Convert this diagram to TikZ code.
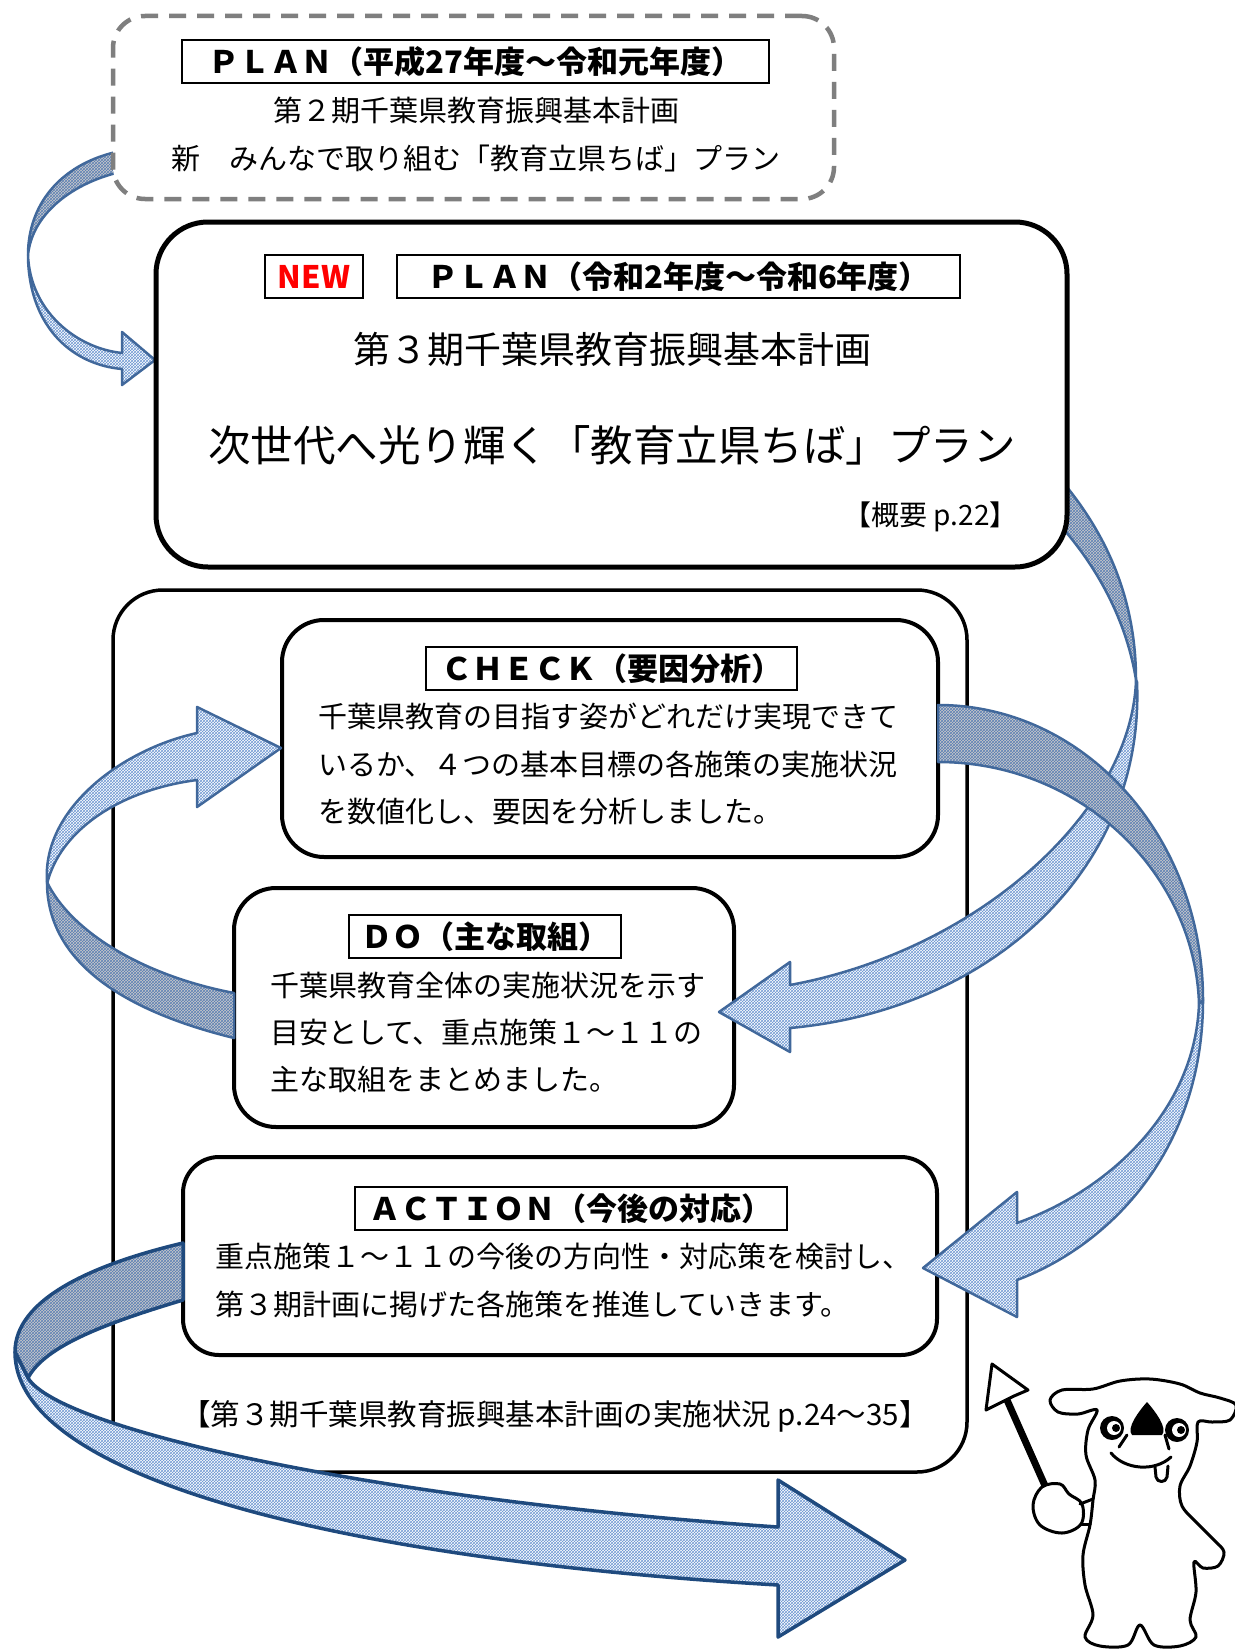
\documentclass[tikz,border=0pt]{standalone}
\usepackage{fontspec}
\setmainfont{Noto Sans CJK JP}
\usetikzlibrary{patterns}

\definecolor{dashgray}{HTML}{7F7F7F}
\definecolor{ribbonline}{HTML}{41689B}
\definecolor{ribbonnavy}{HTML}{1F4A7E}
\definecolor{hatchblue}{HTML}{6F98D2}
\definecolor{hatchdeep}{HTML}{5A7FB5}
\definecolor{backgray}{HTML}{C9C9C9}
\definecolor{newred}{HTML}{FF0000}

\begin{document}
\begin{tikzpicture}[x=1pt,y=-1pt,
  panel/.style={draw=black, fill=white, line width=4pt, rounded corners=40pt, inner sep=0pt},
  titlebox/.style={draw=black, fill=white, line width=2.5pt, inner sep=0pt, minimum height=43pt,
                   font=\fontsize{31}{31}\selectfont\bfseries},
  body/.style={inner sep=0pt, anchor=west, font=\fontsize{29}{29}\selectfont},
  ctext/.style={inner sep=0pt, font=\fontsize{29}{29}\selectfont},
  front/.style={draw=ribbonline, line width=2.5pt, line join=round,
                preaction={fill=white}, pattern=crosshatch, pattern color=hatchblue},
  back/.style={draw=ribbonline, line width=2.5pt, line join=round,
               preaction={fill=backgray}, pattern=crosshatch, pattern color=hatchdeep},
]
\useasboundingbox (0,0) rectangle (1234,1651);
\fill[white] (0,0) rectangle (1234,1651);

% ---------- implementation frame with its three stages ----------
\node[panel, line width=3.5pt, rounded corners=50pt, minimum width=854pt, minimum height=882pt]
  (frame) at (540,1031) {};
\node[inner sep=0pt, font=\fontsize{29.5}{29.5}\selectfont] (frameref) at (555,1416)
  {【第３期千葉県教育振興基本計画の実施状況 p.24～35】};

\node[panel, rounded corners=42pt, minimum width=656pt, minimum height=237pt] (check) at (610,738.5) {};
\node[titlebox, minimum width=371pt] (checkt) at (611.5,668.5) {ＣＨＥＣＫ（要因分析）};
\node[body] (check1) at (318,716) {千葉県教育の目指す姿がどれだけ実現できて};
\node[body] (check2) at (318,764) {いるか、４つの基本目標の各施策の実施状況};
\node[body] (check3) at (318,812) {を数値化し、要因を分析しました。};

\node[panel, rounded corners=42pt, minimum width=500pt, minimum height=239pt] (do) at (484,1007.5) {};
\node[titlebox, minimum width=272pt] (dot) at (485,936.5) {ＤＯ（主な取組）};
\node[body] (do1) at (270,985) {千葉県教育全体の実施状況を示す};
\node[body] (do2) at (270,1032) {目安として、重点施策１～１１の};
\node[body] (do3) at (270,1079) {主な取組をまとめました。};

\node[panel, rounded corners=36pt, minimum width=754pt, minimum height=198pt] (act) at (560,1256) {};
\node[titlebox, minimum width=432pt] (actt) at (571,1208.5) {ＡＣＴＩＯＮ（今後の対応）};
\node[body] (act1) at (215,1256) {重点施策１～１１の今後の方向性・対応策を検討し、};
\node[body] (act2) at (215,1304) {第３期計画に掲げた各施策を推進していきます。};

% ---------- curved ribbon arrows ----------
% previous plan -> current plan
\path[back] (116,152) .. controls (60,165) and (28,205) .. (28,255)
  .. controls (32,215) and (70,185) .. (116,173) -- cycle;
\path[front] (28,255) .. controls (30,310) and (75,348) .. (122,353)
  -- (122,332) -- (155,360) -- (122,385) -- (122,369)
  .. controls (75,365) and (30,330) .. (28,258) -- cycle;

% current plan -> DO
\path[back] (1045,462) .. controls (1100,520) and (1136,590) .. (1136,680)
  .. controls (1125,610) and (1085,545) .. (1035,500) -- cycle;
\path[front] (1136,680) .. controls (1132,810) and (980,950) .. (790,985)
  -- (790,962) -- (719,1012) -- (790,1052) -- (790,1028)
  .. controls (990,1010) and (1145,870) .. (1137,682) -- cycle;

% CHECK -> ACTION
\path[back] (938,705) .. controls (1085,705) and (1203,837) .. (1203,1000)
  -- (1199,1004) .. controls (1195,874) and (1082,762) .. (938,762) -- cycle;
\path[front] (1199,1004) .. controls (1195,1110) and (1110,1190) .. (1017,1223)
  -- (1017,1192) -- (923,1268) -- (1017,1317) -- (1017,1280)
  .. controls (1110,1245) and (1203,1150) .. (1203,1000) -- cycle;

% DO -> CHECK
\path[back] (234,1038) .. controls (120,1010) and (47,960) .. (47,882)
  .. controls (70,930) and (140,975) .. (234,993) -- cycle;
\path[front] (47,882) .. controls (42,810) and (120,750) .. (197,733)
  -- (197,707) -- (281,748) -- (197,807) -- (197,780)
  .. controls (120,790) and (60,830) .. (47,884) -- cycle;

% ACTION -> next cycle
\path[back, draw=ribbonnavy, line width=3.5pt] (183,1243) .. controls (90,1265) and (15,1300) .. (15,1352)
  -- (28,1378) .. controls (45,1345) and (110,1322) .. (183,1300) -- cycle;
\path[front, draw=ribbonnavy, line width=3.5pt] (15,1352) .. controls (15,1480) and (350,1560) .. (778,1585)
  -- (778,1637) -- (905,1560) -- (778,1480) -- (778,1527)
  .. controls (380,1500) and (60,1430) .. (28,1378) -- cycle;

% ---------- current plan ----------
\node[panel, line width=5pt, rounded corners=52pt, minimum width=911pt, minimum height=345pt]
  (plan3) at (611.5,394.5) {};
\node[titlebox, minimum width=98pt, text=newred] (newt) at (314,276.5) {NEW};
\node[titlebox, minimum width=563pt] (plan3t) at (678.5,276.5) {ＰＬＡＮ（令和2年度～令和6年度）};
\node[inner sep=0pt, font=\fontsize{37}{37}\selectfont] (plan3a) at (612,349) {第３期千葉県教育振興基本計画};
\node[inner sep=0pt, font=\fontsize{42.5}{42.5}\selectfont] (plan3b) at (612,445) {次世代へ光り輝く「教育立県ちば」プラン};
\node[inner sep=0pt, anchor=east, font=\fontsize{28}{28}\selectfont] (plan3ref) at (1018,517) {【概要 p.22】};

% ---------- previous plan ----------
\node[draw=dashgray, fill=white, line width=4.5pt, dash pattern=on 17pt off 11pt,
      rounded corners=32pt, minimum width=721pt, minimum height=183pt, inner sep=0pt]
  (plan2) at (473.5,107.5) {};
\node[titlebox, minimum width=587pt] (plan2t) at (475.5,61.5) {ＰＬＡＮ（平成27年度～令和元年度）};
\node[ctext] (plan2a) at (476,110) {第２期千葉県教育振興基本計画};
\node[ctext] (plan2b) at (476,158) {新　みんなで取り組む「教育立県ちば」プラン};

% ---------- mascot with pointer ----------
\begin{scope}[line width=3pt, line join=round, line cap=round]
  \draw[line width=7pt] (1007,1400) -- (1046,1488);
  \draw[fill=white] (992,1364) -- (1028,1390) -- (1014,1396) -- (1002,1402) -- (986,1410) -- cycle;
  \draw[fill=white] plot[smooth cycle, tension=0.55] coordinates {
    (1097,1410) (1078,1414) (1058,1412) (1050,1400) (1062,1390) (1093,1389)
    (1120,1381) (1150,1379) (1180,1384) (1200,1393) (1220,1398) (1236,1405)
    (1230,1420) (1212,1422) (1198,1422) (1197,1442) (1190,1466) (1180,1486)
    (1182,1506) (1197,1523) (1214,1540) (1224,1552) (1218,1566) (1203,1568)
    (1194,1562) (1196,1592) (1190,1620) (1196,1637) (1180,1646) (1154,1645)
    (1140,1625) (1128,1645) (1100,1646) (1085,1637) (1093,1615) (1085,1585)
    (1083,1555) (1090,1525) (1093,1500) (1095,1480) (1086,1455) (1088,1430)};
  \draw[fill=white] plot[smooth cycle, tension=0.6] coordinates {
    (1042,1487) (1060,1484) (1069,1494) (1082,1504) (1081,1524) (1062,1533)
    (1040,1525) (1033,1505)};
  \draw (1080,1504) -- (1093,1499);
  \draw (1081,1524) -- (1090,1524);
  % eyes
  \fill (1112,1428) circle[radius=12pt];
  \fill[white] (1114,1428) circle[radius=7pt];
  \fill (1116,1428) circle[radius=4pt];
  \fill (1177,1430) circle[radius=12pt];
  \fill[white] (1179,1430) circle[radius=7pt];
  \fill (1181,1430) circle[radius=4pt];
  % nose, snout, mouth, tongue
  \fill (1147,1402) .. controls (1139,1411) and (1126,1428) .. (1132,1435)
    -- (1162,1435) .. controls (1168,1428) and (1155,1411) .. (1147,1402) -- cycle;
  \draw (1127,1435) -- (1119,1447);
  \draw (1165,1435) -- (1169,1449);
  \draw (1111,1453) .. controls (1125,1470) and (1155,1472) .. (1171,1457);
  \draw[fill=white] (1155,1467) -- (1156,1477) .. controls (1157,1483) and (1166,1483) .. (1167,1477) -- (1168,1466);
\end{scope}
\end{tikzpicture}
\end{document}
